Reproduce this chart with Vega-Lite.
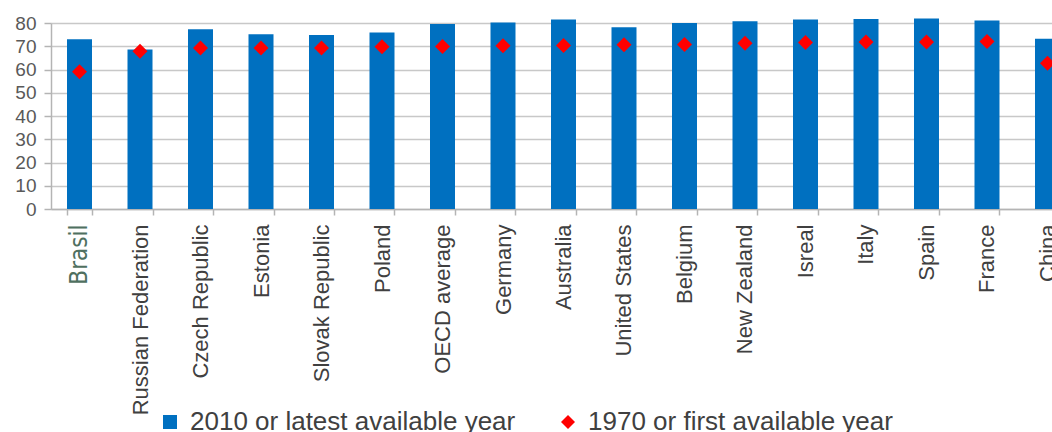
{
  "$schema": "https://vega.github.io/schema/vega-lite/v6.json",
  "width": 1001,
  "height": 186,
  "autosize": {"type": "none"},
  "padding": {"left": 51, "top": 23, "right": 0, "bottom": 223},
  "background": "white",
  "config": {"view": {"stroke": null}, "font": "Liberation Sans"},
  "data": {
    "values": [
      {"country": "Brasil", "series": "2010 or latest available year", "value": 73.0},
      {"country": "Brasil", "series": "1970 or first available year", "value": 59.0},
      {"country": "Russian Federation", "series": "2010 or latest available year", "value": 68.6},
      {"country": "Russian Federation", "series": "1970 or first available year", "value": 67.8},
      {"country": "Czech Republic", "series": "2010 or latest available year", "value": 77.3},
      {"country": "Czech Republic", "series": "1970 or first available year", "value": 69.2},
      {"country": "Estonia", "series": "2010 or latest available year", "value": 75.2},
      {"country": "Estonia", "series": "1970 or first available year", "value": 69.2},
      {"country": "Slovak Republic", "series": "2010 or latest available year", "value": 74.8},
      {"country": "Slovak Republic", "series": "1970 or first available year", "value": 69.2},
      {"country": "Poland", "series": "2010 or latest available year", "value": 75.9},
      {"country": "Poland", "series": "1970 or first available year", "value": 69.8},
      {"country": "OECD average", "series": "2010 or latest available year", "value": 79.6},
      {"country": "OECD average", "series": "1970 or first available year", "value": 69.9},
      {"country": "Germany", "series": "2010 or latest available year", "value": 80.2},
      {"country": "Germany", "series": "1970 or first available year", "value": 70.2},
      {"country": "Australia", "series": "2010 or latest available year", "value": 81.5},
      {"country": "Australia", "series": "1970 or first available year", "value": 70.3},
      {"country": "United States", "series": "2010 or latest available year", "value": 78.2},
      {"country": "United States", "series": "1970 or first available year", "value": 70.6},
      {"country": "Belgium", "series": "2010 or latest available year", "value": 80.0},
      {"country": "Belgium", "series": "1970 or first available year", "value": 70.7},
      {"country": "New Zealand", "series": "2010 or latest available year", "value": 80.8},
      {"country": "New Zealand", "series": "1970 or first available year", "value": 71.3},
      {"country": "Isreal", "series": "2010 or latest available year", "value": 81.5},
      {"country": "Isreal", "series": "1970 or first available year", "value": 71.6},
      {"country": "Italy", "series": "2010 or latest available year", "value": 81.7},
      {"country": "Italy", "series": "1970 or first available year", "value": 71.8},
      {"country": "Spain", "series": "2010 or latest available year", "value": 81.9},
      {"country": "Spain", "series": "1970 or first available year", "value": 71.8},
      {"country": "France", "series": "2010 or latest available year", "value": 81.1},
      {"country": "France", "series": "1970 or first available year", "value": 72.0},
      {"country": "China", "series": "2010 or latest available year", "value": 73.2},
      {"country": "China", "series": "1970 or first available year", "value": 62.7}
    ]
  },
  "encoding": {
    "x": {
      "field": "country",
      "type": "nominal",
      "sort": null,
      "scale": {"range": [0, 1025], "paddingInner": 0.5868, "paddingOuter": 0.2645},
      "axis": {
        "title": null,
        "labelAngle": -90,
        "labelFontSize": {"expr": "datum.value == 'Brasil' ? 24 : 22"},
        "labelFont": {"expr": "datum.value == 'Brasil' ? 'DejaVu Sans Condensed' : 'Liberation Sans'"},
        "labelColor": {"expr": "datum.value == 'Brasil' ? '#4f7060' : '#404040'"},
        "labelPadding": 9,
        "labelLimit": 400,
        "labelOverlap": false,
        "tickBand": "extent",
        "tickSize": 6,
        "tickColor": "#b4b4b4",
        "tickWidth": 1.5,
        "domainColor": "#b4b4b4",
        "domainWidth": 1.5,
        "grid": false
      }
    },
    "y": {
      "field": "value",
      "type": "quantitative",
      "scale": {"domain": [0, 80], "nice": false},
      "axis": {
        "title": null,
        "values": [0, 10, 20, 30, 40, 50, 60, 70, 80],
        "labelOverlap": false,
        "grid": true,
        "gridColor": "#c8c8c8",
        "gridWidth": 1.5,
        "domainColor": "#b4b4b4",
        "domainWidth": 1.5,
        "tickColor": "#b4b4b4",
        "tickWidth": 1.5,
        "tickSize": 7,
        "labelFontSize": 19,
        "labelColor": "#595959",
        "labelPadding": 8
      }
    }
  },
  "layer": [
    {
      "transform": [{"filter": "datum.series == '2010 or latest available year'"}],
      "mark": {"type": "bar", "color": "#0070c0"},
      "encoding": {
        "color": {
          "field": "series",
          "type": "nominal",
          "scale": {
            "domain": ["2010 or latest available year", "1970 or first available year"],
            "range": ["#0070c0", "#ff0000"]
          },
          "legend": {
            "title": null,
            "orient": "none",
            "direction": "horizontal",
            "legendX": 106,
            "legendY": 386,
            "padding": 0,
            "labelFontSize": 26,
            "labelColor": "#404040",
            "labelLimit": 500,
            "labelOffset": 7,
            "columnPadding": 39,
            "symbolSize": 196,
            "symbolStrokeWidth": 0,
            "symbolOpacity": 1
          }
        }
      }
    },
    {
      "transform": [{"filter": "datum.series == '1970 or first available year'"}],
      "mark": {"type": "point", "filled": true, "size": 225, "opacity": 1},
      "encoding": {
        "color": {"field": "series", "type": "nominal"},
        "shape": {
          "field": "series",
          "type": "nominal",
          "scale": {
            "domain": ["2010 or latest available year", "1970 or first available year"],
            "range": ["square", "diamond"]
          }
        }
      }
    }
  ]
}
